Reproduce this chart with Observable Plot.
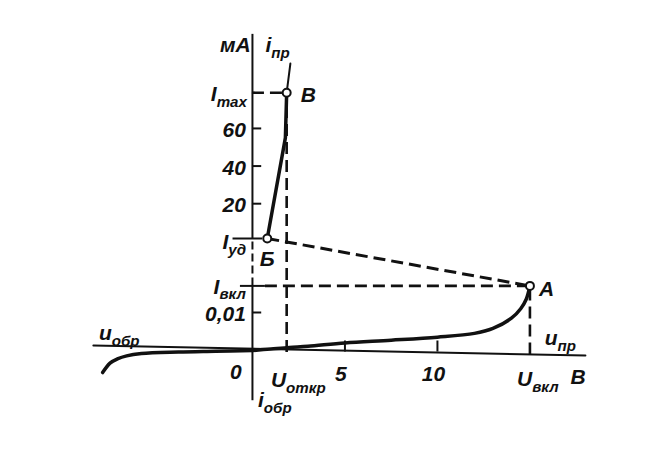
<!DOCTYPE html>
<html>
<head>
<meta charset="utf-8">
<script src="https://cdn.jsdelivr.net/npm/d3@7"></script>
<script src="https://cdn.jsdelivr.net/npm/@observablehq/plot@0.6"></script>
<style>
  html, body { margin: 0; padding: 0; background: #fff; }
  #chart svg { display: block; }
</style>
</head>
<body>
<div id="chart"></div>
<script>
const Uotkr = 1.85;   // V
const Uvkl = 15;      // V
const Imax = 79;      // mA
const Iud = 1.5;      // mA (holding current)
const Ivkl = 0.017;   // mA (switching current)

// forward blocking branch (0 -> A)
const forwardU = [0, 1, 2, 3, 5, 7.5, 10, 12, 13, 14, 14.5, 14.8, 15];
const forwardI = [0, 0.0004, 0.0008, 0.0011, 0.002, 0.0027, 0.0035, 0.0045, 0.0058, 0.0085, 0.011, 0.0135, 0.017];
// reverse branch
const reverseU = [0, -2, -4, -6, -6.8, -7.3, -7.7, -8.1];
const reverseI = [0, -0.0002, -0.0004, -0.0008, -0.0014, -0.0022, -0.0033, -0.0058];
// on-state branch (Б -> В)
const onU = [0.8, 1.78, 1.85];
const onI = [1.5, 55, 79];
const onExtU = [1.85, 2.05];
const onExtI = [79, 94.5];

const yTicks = [20, 40, 60, 0.01];
const yTickLabels = ["20", "40", "60", "0,01"];
const xTicks = [5, 10];
const xTickLabels = ["5", "10"];
// hand-drawn abscissa: slight tilt (current offset at its two ends)
const axisU = [-8.6, 18.0];
const axisI = [0.0013, -0.0013];

const points = [
  {name: "Б", u: 0.8, i: Iud},
  {name: "В", u: Uotkr, i: Imax},
  {name: "A", u: Uvkl, i: Ivkl}
];

const zip = (xs, ys) => xs.map((x, k) => ({u: x, i: ys[k]}));
const forward = zip(forwardU, forwardI);
const reverse = zip(reverseU, reverseI);
const onState = zip(onU, onI);
const onExt = zip(onExtU, onExtI);
const axisLine = zip(axisU, axisI);

const font = {fontFamily: "'Liberation Sans Narrow', 'Liberation Sans', Arial, sans-serif", fontStyle: "italic", fontWeight: "bold", fontSize: 21, fill: "#111"};
const dash = {stroke: "#111", strokeWidth: 2.6, strokeDasharray: "12,6"};

const chart = Plot.plot({
  width: 653,
  height: 460,
  margin: 0,
  x: {domain: [-13.62, 21.68], range: [0, 653], axis: null},
  y: {type: "linear", domain: [-0.0289, 0, 0.02, Iud, 128], range: [460, 350, 274, 238, 0], axis: null},
  marks: [
    // axes
    Plot.line(axisLine, {x: "u", y: "i", stroke: "#111", strokeWidth: 2}),
    Plot.ruleX([0], {y1: -0.0132, y2: Ivkl, stroke: "#111", strokeWidth: 2}),
    Plot.ruleX([0], {y1: Ivkl, y2: Iud, stroke: "#111", strokeWidth: 2, strokeDasharray: "8,4"}),
    Plot.ruleX([0], {y1: Iud, y2: 110, stroke: "#111", strokeWidth: 2}),
    // ticks
    Plot.ruleY(yTicks, {x1: 0, x2: 0.5, stroke: "#111", strokeWidth: 2}),
    Plot.ruleY([Iud], {x1: -1.05, x2: 0.55, stroke: "#111", strokeWidth: 2}),
    Plot.ruleY([Ivkl], {x1: -0.65, x2: 0.7, stroke: "#111", strokeWidth: 2}),
    Plot.ruleX(xTicks, {y1: -0.0004, y2: 0.0025, stroke: "#111", strokeWidth: 2}),
    // dashed guides
    Plot.ruleY([Imax], {x1: 0, x2: Uotkr, ...dash}),
    Plot.ruleX([Uotkr], {y1: -0.0005, y2: Imax, ...dash}),
    Plot.ruleY([Ivkl], {x1: 0.7, x2: Uvkl, ...dash}),
    Plot.ruleX([Uvkl], {y1: -0.0012, y2: Ivkl, ...dash}),
    Plot.link([0], {x1: () => 0.8, y1: () => Iud, x2: () => Uvkl, y2: () => Ivkl, ...dash, strokeWidth: 3}),
    // characteristic
    Plot.line(forward, {x: "u", y: "i", curve: "catmull-rom", stroke: "#111", strokeWidth: 3.5}),
    Plot.line(reverse, {x: "u", y: "i", curve: "catmull-rom", stroke: "#111", strokeWidth: 3.5}),
    Plot.line(onState, {x: "u", y: "i", stroke: "#111", strokeWidth: 3.5}),
    Plot.line(onExt, {x: "u", y: "i", stroke: "#111", strokeWidth: 2}),
    Plot.dot(points, {x: "u", y: "i", r: 4, fill: "white", stroke: "#111", strokeWidth: 2}),
    // y labels
    Plot.text(yTicks, {x: () => -0.35, y: d => d, text: (d, k) => yTickLabels[k], textAnchor: "end", dy: 2, ...font}),
    Plot.text(["мА"], {x: () => -0.1, y: () => 104, text: d => d, textAnchor: "end", ...font}),
    Plot.text(["i_пр"], {x: () => 0.7, y: () => 104, text: d => d, textAnchor: "start", ...font}),
    Plot.text(["I_max"], {x: () => -0.3, y: () => Imax, text: d => d, textAnchor: "end", dy: 2, ...font}),
    Plot.text(["I_уд"], {x: () => -0.35, y: () => Iud, text: d => d, textAnchor: "end", dy: 4, ...font}),
    Plot.text(["I_вкл"], {x: () => -0.35, y: () => Ivkl, text: d => d, textAnchor: "end", dy: 1, ...font}),
    // point labels
    Plot.text(points.filter(d => d.name === "В"), {x: "u", y: "i", text: "name", textAnchor: "start", dx: 14, dy: 3, ...font}),
    Plot.text(points.filter(d => d.name === "A"), {x: "u", y: "i", text: "name", textAnchor: "start", dx: 9, dy: 3, ...font}),
    Plot.text(points.filter(d => d.name === "Б"), {x: "u", y: "i", text: "name", textAnchor: "middle", dy: 21, ...font}),
    // x labels
    Plot.text(xTicks, {x: d => d, y: () => 0, text: (d, k) => xTickLabels[k], textAnchor: "middle", dx: -4, dy: 24, ...font}),
    Plot.text(["0"], {x: () => -0.9, y: () => 0, text: d => d, textAnchor: "middle", dy: 22, ...font}),
    Plot.text(["U_откр"], {x: () => 1.0, y: () => 0, text: d => d, textAnchor: "start", dy: 30, ...font}),
    Plot.text(["U_вкл"], {x: () => 14.3, y: () => 0, text: d => d, textAnchor: "start", dy: 29, ...font}),
    Plot.text(["В"], {x: () => 17.6, y: () => 0, text: d => d, textAnchor: "middle", dy: 27, ...font}),
    Plot.text(["u_обр"], {x: () => -8.3, y: () => 0, text: d => d, textAnchor: "start", dy: -17, ...font}),
    Plot.text(["u_пр"], {x: () => 15.8, y: () => 0, text: d => d, textAnchor: "start", dy: -12, ...font}),
    Plot.text(["i_обр"], {x: () => 0.3, y: () => 0, text: d => d, textAnchor: "start", dy: 50, ...font})
  ]
});

// turn "X_sub" into real subscripts
chart.querySelectorAll("text").forEach(t => {
  const s = t.textContent;
  if (s.includes("_")) {
    const [main, sub] = s.split("_");
    t.textContent = main;
    const ts = document.createElementNS("http://www.w3.org/2000/svg", "tspan");
    ts.setAttribute("font-size", "0.72em");
    ts.setAttribute("dy", "0.35em");
    ts.textContent = sub;
    t.appendChild(ts);
  }
});

document.getElementById("chart").appendChild(chart);
</script>
</body>
</html>
